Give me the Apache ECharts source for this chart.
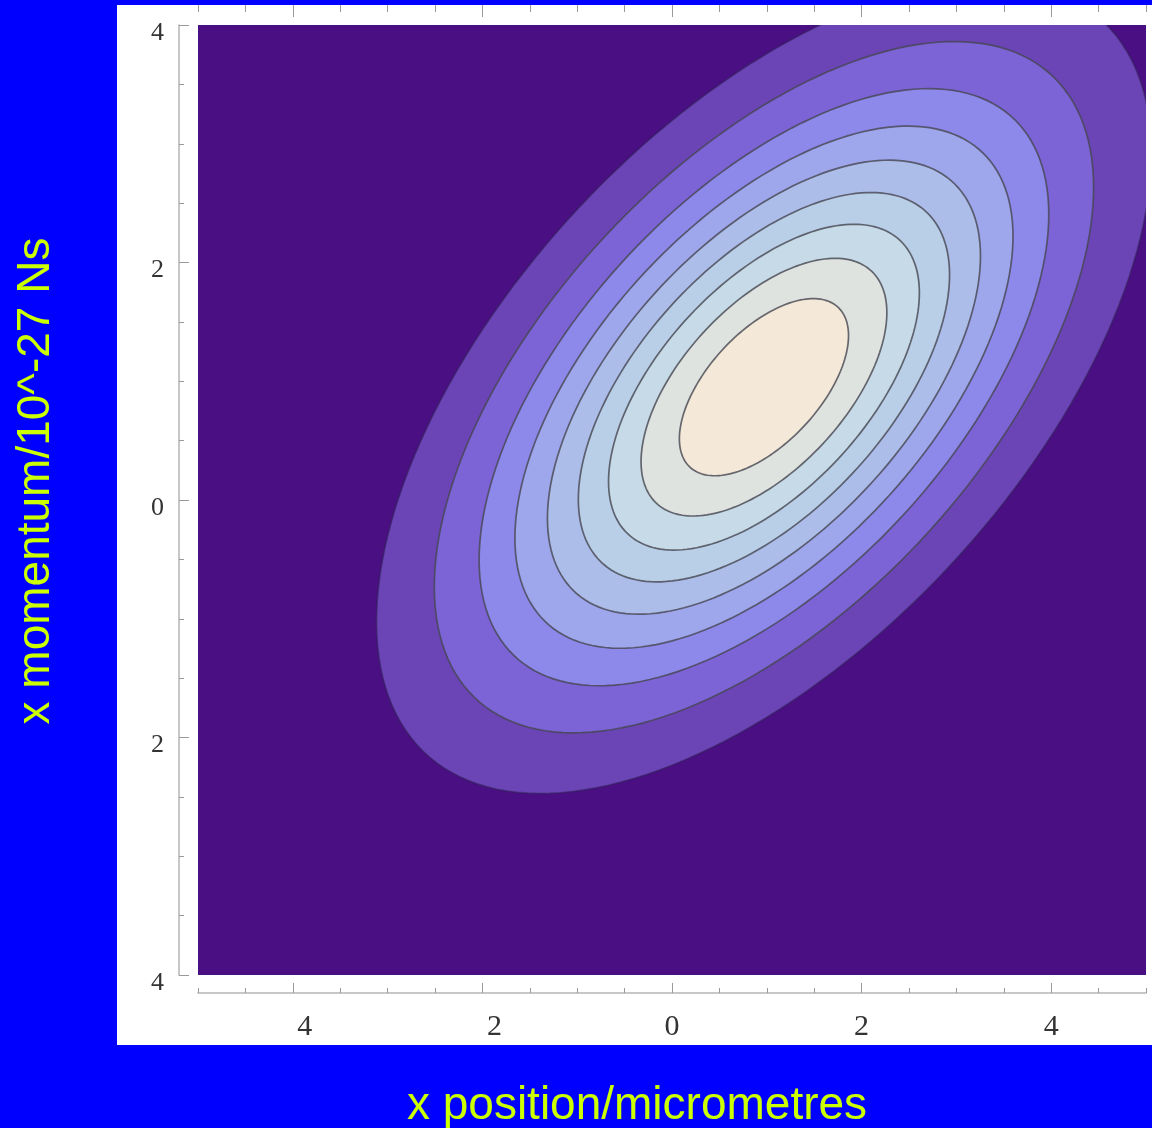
<!DOCTYPE html>
<html>
<head>
<meta charset="utf-8">
<script src="https://cdn.jsdelivr.net/npm/echarts@6/dist/echarts.min.js"></script>
<style>
html,body{margin:0;padding:0;background:#0000ff;}
#chart{width:1152px;height:1128px;}
</style>
</head>
<body>
<div id="chart"></div>
<script>
// ---- data ----
// contour levels (fraction of the peak), outermost first
const contourLevels = [0.1, 0.2, 0.3, 0.4, 0.5, 0.6, 0.7, 0.8, 0.9];
// centre of each contour ellipse (x position, x momentum)
const centerX = [0.97, 0.97, 0.97, 0.97, 0.97, 0.97, 0.97, 0.97, 0.97];
const centerY = [0.95, 0.95, 0.95, 0.95, 0.95, 0.95, 0.95, 0.95, 0.95];
// semi-axes of each contour ellipse, in axis units
const semiMajor = [4.76, 4.05, 3.50, 3.06, 2.66, 2.28, 1.91, 1.51, 1.04];
const semiMinor = [2.40, 2.04, 1.76, 1.54, 1.34, 1.15, 0.96, 0.76, 0.52];
// tilt of the major axis (degrees, in data units)
const tiltDeg = [36.4, 36.4, 36.4, 36.4, 36.4, 36.4, 36.4, 36.4, 36.4];
// band colours: background, then inside each contour
const bandColors = ['#4a1083', '#6b45b6', '#7c64d6', '#8d89ea', '#9ea6ec', '#adbdea',
                    '#b9cfe8', '#c6dbe7', '#dfe3e0', '#f4e9d8'];
// ticks
const xMajorTicks = [-4, -2, 0, 2, 4];
const yMajorTicks = [-4, -2, 0, 2, 4];
const xMinorTicks = [-5, -4.5, -4, -3.5, -3, -2.5, -2, -1.5, -1, -0.5, 0, 0.5, 1, 1.5, 2, 2.5, 3, 3.5, 4, 4.5, 5];
const yMinorTicks = [-4, -3.5, -3, -2.5, -2, -1.5, -1, -0.5, 0, 0.5, 1, 1.5, 2, 2.5, 3, 3.5, 4];
const xTitle = 'x position/micrometres';
const yTitle = 'x momentum/10^-27 Ns';

const chart = echarts.init(document.getElementById('chart'), null, {renderer: 'canvas'});

const tickFont = 'Liberation Serif';
const axisGrey = '#b5b5b5';
const tickGrey = '#9a9a9a';

function xLabelFormatter(v) {
  return v < 0 ? '{neg|' + Math.abs(v) + '}' : '{pos|' + v + '}';
}

const xLabelRich = {
  neg: {fontSize: 30, fontFamily: tickFont, color: '#333', padding: [0, 0, 0, 24]},
  pos: {fontSize: 30, fontFamily: tickFont, color: '#333'}
};

function hiddenLine() { return {show: false, onZero: false}; }

const option = {
  backgroundColor: '#0000ff',
  animation: false,
  graphic: [
    {type: 'rect', z: -100, shape: {x: 117, y: 5, width: 1040, height: 1040}, style: {fill: '#ffffff'}, silent: true},
    {type: 'text', x: 36, y: 481, rotation: Math.PI / 2, z: 10,
     style: {text: yTitle, fontSize: 46, fontFamily: 'Liberation Sans', fill: '#ccff00', align: 'center', verticalAlign: 'middle'}},
    {type: 'text', x: 637, y: 1106, z: 10,
     style: {text: xTitle, fontSize: 46, fontFamily: 'Liberation Sans', fill: '#ccff00', align: 'center', verticalAlign: 'middle'}}
  ],
  grid: {left: 198, top: 25, width: 948, height: 950, show: true, backgroundColor: bandColors[0], borderWidth: 0},
  xAxis: [
    {type: 'value', min: -5, max: 5, position: 'bottom', offset: 18,
     axisLine: {show: true, onZero: false, lineStyle: {color: axisGrey, width: 1.5}},
     axisTick: {show: true, inside: true, length: 10, customValues: xMajorTicks, lineStyle: {color: tickGrey, width: 1}},
     axisLabel: {show: true, customValues: xMajorTicks, formatter: xLabelFormatter, rich: xLabelRich, margin: 19},
     splitLine: {show: false}},
    {type: 'value', min: -5, max: 5, position: 'bottom', offset: 18,
     axisLine: hiddenLine(),
     axisTick: {show: true, inside: true, length: 5, customValues: xMinorTicks, lineStyle: {color: tickGrey, width: 1}},
     axisLabel: {show: false}, splitLine: {show: false}},
    {type: 'value', min: -5, max: 5, position: 'top', offset: 20,
     axisLine: hiddenLine(),
     axisTick: {show: true, inside: true, length: 12, customValues: xMajorTicks, lineStyle: {color: tickGrey, width: 1}},
     axisLabel: {show: false}, splitLine: {show: false}},
    {type: 'value', min: -5, max: 5, position: 'top', offset: 20,
     axisLine: hiddenLine(),
     axisTick: {show: true, inside: true, length: 7, customValues: xMinorTicks, lineStyle: {color: tickGrey, width: 1}},
     axisLabel: {show: false}, splitLine: {show: false}}
  ],
  yAxis: [
    {type: 'value', min: -4, max: 4, position: 'left', offset: 19,
     axisLine: {show: true, onZero: false, lineStyle: {color: axisGrey, width: 1.5}},
     axisTick: {show: true, inside: true, length: 10, customValues: yMajorTicks, lineStyle: {color: tickGrey, width: 1}},
     axisLabel: {show: true, customValues: yMajorTicks, formatter: function (v) { return String(Math.abs(v)); },
                 fontSize: 26, fontFamily: tickFont, color: '#333', margin: 15,
                 verticalAlign: 'top', lineHeight: 16},
     splitLine: {show: false}},
    {type: 'value', min: -4, max: 4, position: 'left', offset: 19,
     axisLine: hiddenLine(),
     axisTick: {show: true, inside: true, length: 5, customValues: yMinorTicks, lineStyle: {color: tickGrey, width: 1}},
     axisLabel: {show: false}, splitLine: {show: false}}
  ],
  series: [{
    type: 'custom',
    coordinateSystem: 'cartesian2d',
    xAxisIndex: 0,
    yAxisIndex: 0,
    clip: true,
    silent: true,
    encode: {x: 0, y: 1},
    data: contourLevels.map(function (lv, i) {
      return [centerX[i], centerY[i], semiMajor[i], semiMinor[i], tiltDeg[i], i, lv];
    }),
    renderItem: function (params, api) {
      const cx = api.value(0), cy = api.value(1);
      const a = api.value(2), b = api.value(3);
      const th = api.value(4) * Math.PI / 180;
      const idx = api.value(5);
      const pts = [];
      const n = 180;
      for (let k = 0; k < n; k++) {
        const t = 2 * Math.PI * k / n;
        const dx = a * Math.cos(t), dy = b * Math.sin(t);
        pts.push(api.coord([cx + dx * Math.cos(th) - dy * Math.sin(th),
                            cy + dx * Math.sin(th) + dy * Math.cos(th)]));
      }
      return {
        type: 'polygon',
        shape: {points: pts},
        style: {fill: bandColors[idx + 1], stroke: idx === 0 ? 'rgba(50,30,90,0.6)' : 'rgba(70,70,80,0.8)', lineWidth: 1.7}
      };
    }
  }]
};

chart.setOption(option);
</script>
</body>
</html>
